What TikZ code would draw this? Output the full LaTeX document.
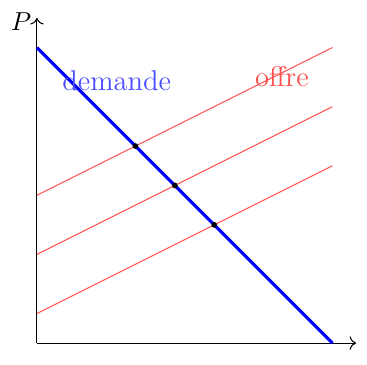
\documentclass[tikz,border=0pt]{standalone}
\usetikzlibrary{arrows.meta, positioning, calc}
\usepackage{amsmath, amssymb}
\usepackage{xcolor}

\begin{document}
\begin{tikzpicture}[
  x=0.4cm, y=0.4cm,
  axis/.style={draw, ->, thin},
  demande/.style={draw=blue, very thick},
  offre/.style={draw=red!70, thin},
  eq/.style={circle, fill=black, inner sep=0pt, minimum size=2.2pt},
  lbl/.style={font=\fontsize{11}{13}\selectfont}
]
\useasboundingbox (-1.25,-0.74) rectangle (11.17,11.61);

% axes
\coordinate (O) at (0,0);
\coordinate (xend) at (10.8,0);
\coordinate (yend) at (0,11);
\draw[axis] (O) -- (xend);
\draw[axis] (O) -- (yend);
\node[left, inner sep=2pt, yshift=-1.2pt] (P) at (yend) {$P$};

% offre
\foreach \b/\n in {5/a, 3/b, 1/c} {
  \coordinate (s\n0) at (0,\b);
  \coordinate (s\n1) at (10,{\b+5});
  \draw[offre] (s\n0) -- (s\n1);
}

% demande
\coordinate (d0) at (0,10);
\coordinate (d1) at (10,0);
\draw[demande] (d0) -- (d1);

% equilibres
\node[eq] (ea) at ({10/3},{20/3}) {};
\node[eq] (eb) at ({14/3},{16/3}) {};
\node[eq] (ec) at (6,4) {};

\node[text=blue!70, lbl] (ldem) at (2.7,8.87) {demande};
\node[text=red!70, lbl] (loff) at (8.29,9.03) {offre};
\end{tikzpicture}
\end{document}
